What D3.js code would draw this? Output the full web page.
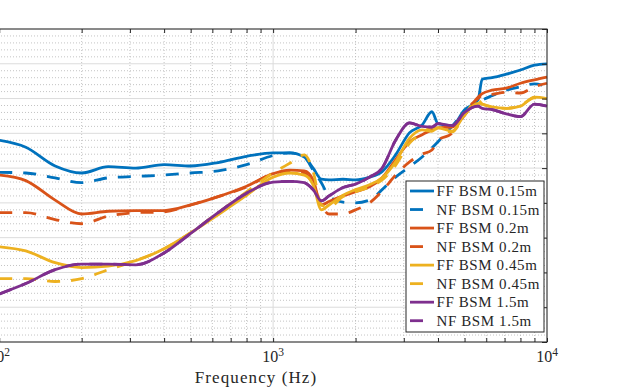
<!DOCTYPE html>
<html>
<head>
<meta charset="utf-8">
<script src="https://cdn.jsdelivr.net/npm/d3@7"></script>
<style>
  body { margin: 0; background: #fff; }
  text { font-family: "Liberation Serif", "DejaVu Serif", serif; fill: #262626; }
</style>
</head>
<body>
<div class="chart"></div>
<script>
// frequency grid (Hz) shared by all curves
var freqs = [100, 125, 160, 200, 250, 315, 400, 500, 630, 800, 1000, 1150, 1300, 1400, 1500, 1600, 1800, 2000,
             2250, 2500, 2800, 3150, 3500, 3800, 4000, 4500, 5000, 5600, 5800, 6300, 7100, 8000, 9000, 10000];

// levels in dB
var ff015 = [-11.0, -12.0, -14.7, -15.7, -14.8, -15.0, -14.5, -14.7, -14.2, -13.3, -12.8, -12.8, -13.4, -15.0, -16.6, -16.7, -16.6, -16.7,
             -16.3, -15.5, -13.1, -9.9, -8.8, -6.9, -8.6, -8.9, -6.6, -5.2, -2.2, -2.0, -1.5, -0.9, -0.2, 0.0];
var nf015 = [-15.6, -15.7, -16.4, -17.1, -16.4, -16.2, -16.0, -15.7, -15.4, -14.5, -13.2, -12.8, -13.4, -15.3, -17.1, -19.0, -19.9, -20.0,
             -19.6, -18.1, -16.3, -14.8, -13.4, -12.1, -11.2, -9.0, -6.9, -5.5, -5.2, -4.6, -3.8, -3.3, -2.9, -3.3];
var ff02  = [-16.0, -16.8, -19.6, -21.6, -21.2, -21.1, -21.1, -20.3, -19.1, -17.6, -15.8, -15.3, -15.4, -16.7, -20.3, -19.8, -19.0, -18.4,
             -17.7, -16.4, -13.8, -11.2, -10.2, -9.5, -9.2, -9.1, -7.4, -4.8, -4.3, -3.8, -3.5, -2.8, -2.3, -1.9];
var nf02  = [-21.4, -21.4, -22.4, -23.0, -21.9, -21.4, -21.3, -20.3, -19.1, -17.7, -15.8, -15.4, -15.7, -17.4, -20.3, -21.6, -21.6, -21.0,
             -20.0, -18.3, -16.0, -14.1, -13.0, -12.4, -11.0, -10.0, -6.9, -5.0, -4.5, -4.4, -4.1, -4.2, -3.3, -2.8];
var ff045 = [-26.3, -26.9, -28.6, -29.3, -29.1, -28.3, -26.6, -24.3, -21.7, -18.9, -16.3, -15.7, -16.0, -17.4, -21.0, -20.3, -18.9, -18.1,
             -17.4, -16.4, -14.1, -10.7, -9.5, -9.7, -9.2, -9.7, -7.3, -5.7, -5.8, -6.2, -6.4, -6.1, -4.8, -5.0];
var nf045 = [-30.9, -30.9, -31.3, -30.9, -29.6, -28.3, -26.6, -24.3, -21.4, -18.4, -15.7, -14.3, -13.1, -15.5, -20.3, -20.6, -19.1, -18.4,
             -17.7, -16.7, -14.6, -11.4, -10.0, -9.2, -9.4, -9.8, -7.4, -5.2, -5.8, -6.2, -6.4, -6.0, -4.9, -5.1];
var ff15  = [-33.1, -31.6, -29.6, -28.8, -28.8, -28.9, -27.2, -24.4, -21.4, -18.6, -17.0, -16.9, -17.1, -18.1, -19.7, -19.0, -17.8, -17.3,
             -16.3, -15.0, -11.0, -8.5, -9.0, -9.1, -8.6, -8.9, -7.0, -6.1, -6.4, -6.6, -7.2, -7.6, -5.8, -6.1];
var nf15  = [-33.1, -31.6, -29.6, -28.8, -28.8, -28.9, -27.2, -24.4, -21.4, -18.6, -17.0, -16.9, -17.1, -18.1, -19.7, -19.0, -17.8, -17.3,
             -16.3, -15.0, -11.0, -8.5, -9.0, -9.1, -8.6, -8.9, -7.0, -6.1, -6.4, -6.6, -7.2, -7.6, -5.8, -6.1];

var seriesNames = ["FF BSM 0.15m", "NF BSM 0.15m", "FF BSM 0.2m", "NF BSM 0.2m",
                   "FF BSM 0.45m", "NF BSM 0.45m", "FF BSM 1.5m", "NF BSM 1.5m"];
var seriesValues = [ff015, nf015, ff02, nf02, ff045, nf045, ff15, nf15];
var seriesColors = ["#0072BD", "#0072BD", "#D95319", "#D95319", "#EDB120", "#EDB120", "#7E2F8E", "#7E2F8E"];
var seriesDashed = [false, true, false, true, false, true, false, true];

var xDomain = [75, 10000];
var yDomain = [-40, 5];
var xLabelTicks = [100, 1000, 10000];

var width = 619,
    height = 390,
    margin = {top: 29, right: 72, bottom: 48, left: -35},
    innerW = width - margin.left - margin.right,
    innerH = height - margin.top - margin.bottom;

var svg = d3.select(".chart")
  .append("svg")
  .attr("width", width)
  .attr("height", height);

var g = svg.append("g")
  .attr("transform", `translate(${margin.left},${margin.top})`);

var x = d3.scaleLog().domain(xDomain).range([0, innerW]);
var y = d3.scaleLinear().domain(yDomain).range([innerH, 0]);

// log ticks: every 1..9 x decade inside the domain
var xAllTicks = [];
[10, 100, 1000].forEach(dec => {
  for (var k = 1; k <= 9; k++) {
    var v = dec * k;
    if (v >= xDomain[0] && v <= xDomain[1]) xAllTicks.push(v);
  }
});
xAllTicks.push(10000);
var xMajor = xAllTicks.filter(v => xLabelTicks.indexOf(v) >= 0);
var xMinor = xAllTicks.filter(v => xLabelTicks.indexOf(v) < 0);
var yMajor = d3.range(yDomain[0], yDomain[1] + 0.1, 5);
var yMinor = d3.range(yDomain[0], yDomain[1] + 0.1, 1).filter(v => v % 5 !== 0);

// minor grid (dotted)
g.append("g").selectAll("line.vminor")
  .data(xMinor).enter().append("line")
  .attr("x1", d => x(d)).attr("x2", d => x(d))
  .attr("y1", 0).attr("y2", innerH)
  .attr("stroke", "#b5b5b5").attr("stroke-width", 0.8).attr("stroke-dasharray", "1,2");
g.append("g").selectAll("line.hminor")
  .data(yMinor).enter().append("line")
  .attr("x1", 0).attr("x2", innerW)
  .attr("y1", d => y(d)).attr("y2", d => y(d))
  .attr("stroke", "#b5b5b5").attr("stroke-width", 0.8).attr("stroke-dasharray", "1,2");

// major grid (solid, light)
g.append("g").selectAll("line.vmajor")
  .data(xMajor).enter().append("line")
  .attr("x1", d => x(d)).attr("x2", d => x(d))
  .attr("y1", 0).attr("y2", innerH)
  .attr("stroke", "#dcdcdc").attr("stroke-width", 1);
g.append("g").selectAll("line.hmajor")
  .data(yMajor).enter().append("line")
  .attr("x1", 0).attr("x2", innerW)
  .attr("y1", d => y(d)).attr("y2", d => y(d))
  .attr("stroke", "#dcdcdc").attr("stroke-width", 1);

// curves
var line = d3.line()
  .x((d, i) => x(freqs[i]))
  .y(d => y(d))
  .curve(d3.curveMonotoneX);

seriesValues.forEach((vals, s) => {
  g.append("path")
    .datum(vals)
    .attr("fill", "none")
    .attr("stroke", seriesColors[s])
    .attr("stroke-width", 2.8)
    .attr("stroke-linejoin", "round")
    .attr("stroke-dasharray", seriesDashed[s] ? "13,11" : null)
    .attr("d", line);
});

// axes (ticks inward, no labels)
var axisColor = "#262626";
function styleAxis(sel) {
  sel.selectAll("path.domain").remove();
  sel.selectAll(".tick line").attr("stroke", axisColor);
  sel.selectAll(".tick text").remove();
}
g.append("g")
  .attr("transform", `translate(0,${innerH})`)
  .call(d3.axisBottom(x).tickValues(xAllTicks).tickSize(-4).tickSizeOuter(0))
  .call(styleAxis);
g.append("g")
  .call(d3.axisTop(x).tickValues(xAllTicks).tickSize(-4).tickSizeOuter(0))
  .call(styleAxis);
g.append("g")
  .attr("transform", `translate(${innerW},0)`)
  .call(d3.axisRight(y).tickValues(yMajor).tickSize(-5).tickSizeOuter(0))
  .call(styleAxis);
g.append("g")
  .call(d3.axisLeft(y).tickValues(yMajor).tickSize(-5).tickSizeOuter(0))
  .call(styleAxis);

// axes box
g.append("rect")
  .attr("x", 0).attr("y", 0)
  .attr("width", innerW).attr("height", innerH)
  .attr("fill", "none")
  .attr("stroke", axisColor)
  .attr("stroke-width", 1);

// x tick labels as 10^n
var xLabels = g.append("g").selectAll("text.xl")
  .data(xLabelTicks).enter().append("text")
  .attr("x", d => x(d))
  .attr("y", innerH + 20)
  .attr("text-anchor", "middle")
  .style("font-size", "16px");
xLabels.append("tspan").text("10");
xLabels.append("tspan")
  .attr("dy", -6)
  .style("font-size", "11.5px")
  .text(d => Math.round(Math.log10(d)));

// x axis title
g.append("text")
  .attr("x", innerW / 2)
  .attr("y", innerH + 41)
  .attr("text-anchor", "middle")
  .style("font-size", "17px")
  .style("letter-spacing", "1.1px")
  .text("Frequency (Hz)");

// legend
var legend = svg.append("g")
  .attr("transform", "translate(406,181)");
legend.append("rect")
  .attr("width", 138).attr("height", 151)
  .attr("fill", "#fff")
  .attr("stroke", axisColor)
  .attr("stroke-width", 1);

var items = legend.selectAll("g.item")
  .data(seriesNames).enter().append("g")
  .attr("class", "item")
  .attr("transform", (d, i) => `translate(0,${10 + i * 18.53})`);
items.append("line")
  .attr("x1", 4).attr("x2", 28)
  .attr("y1", 0).attr("y2", 0)
  .attr("stroke", (d, i) => seriesColors[i])
  .attr("stroke-width", 2.8)
  .attr("stroke-dasharray", (d, i) => seriesDashed[i] ? "13,11" : null);
items.append("text")
  .attr("x", 30.5)
  .attr("y", 5)
  .style("font-size", "15px")
  .style("letter-spacing", "0.6px")
  .text(d => d);
</script>
</body>
</html>
